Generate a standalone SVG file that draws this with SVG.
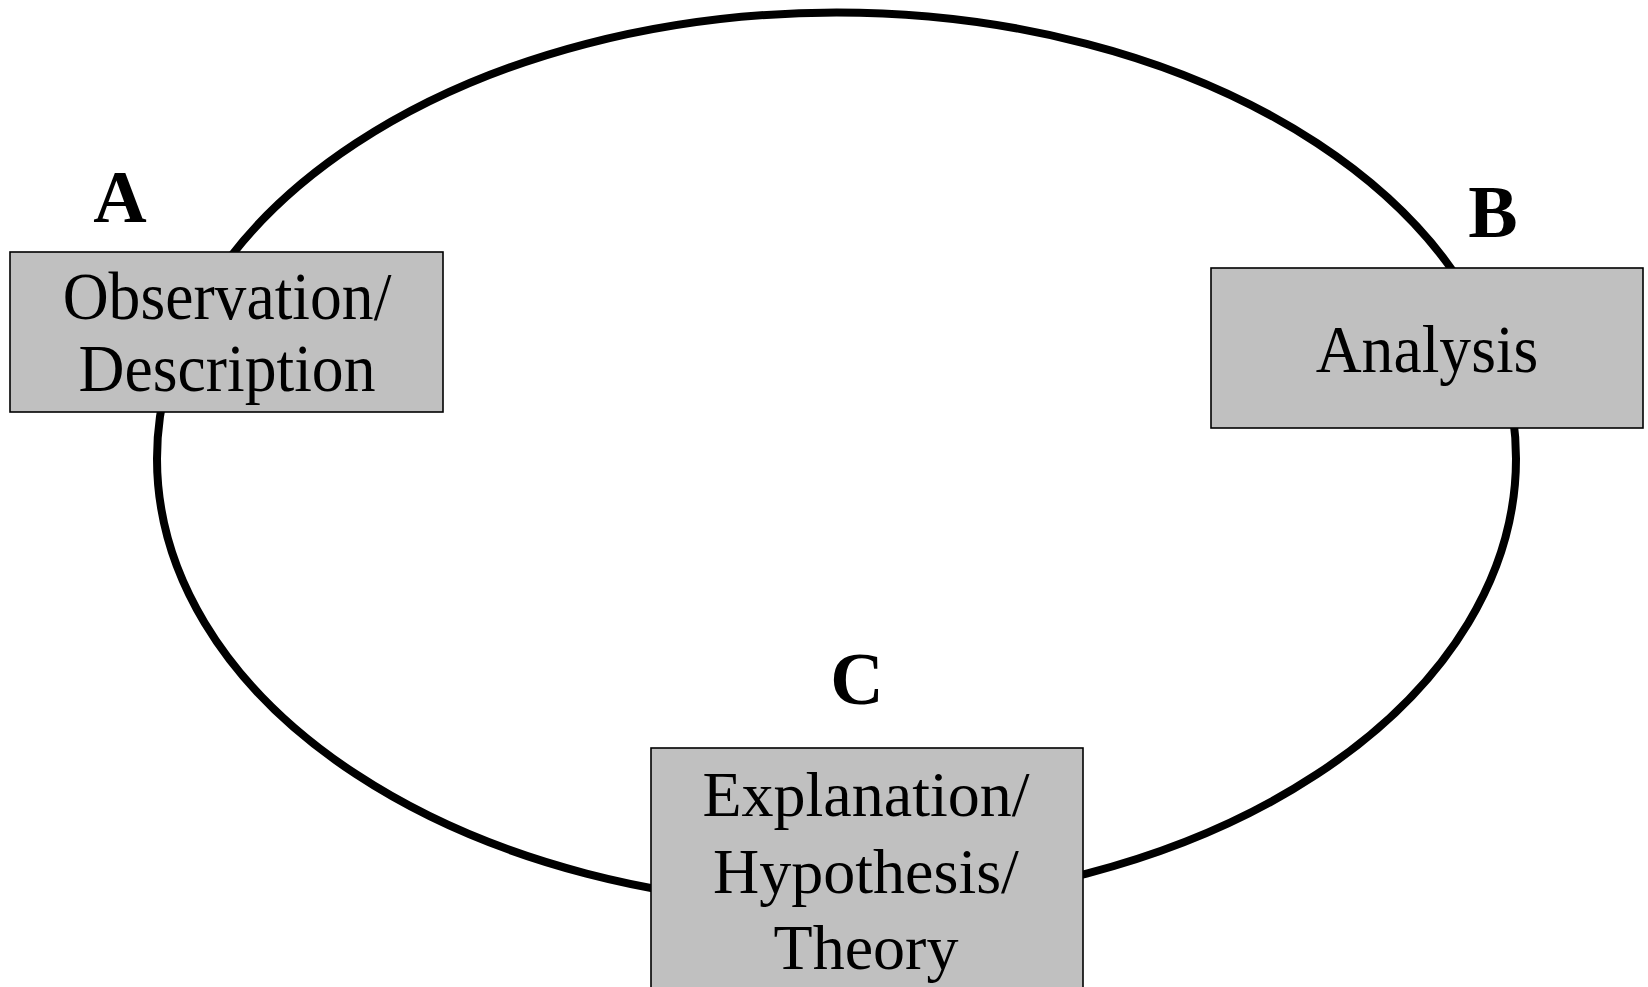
<svg xmlns="http://www.w3.org/2000/svg" width="1648" height="987" viewBox="0 0 1648 987">
  <style>
    .box { fill: #c0c0c0; stroke: #000000; stroke-width: 1.6; }
    .cycle { fill: none; stroke: #000000; stroke-width: 8; }
    .label { font-family: "Liberation Serif", "Times New Roman", serif; fill: #000000; text-anchor: middle; }
    .letter { font-family: "Liberation Serif", "Times New Roman", serif; font-weight: bold; font-size: 74px; fill: #000000; text-anchor: middle; }
  </style>
  <rect width="1648" height="987" fill="#ffffff"/>

  <!-- the cycle linking the three stages -->
  <g id="connectors">
    <ellipse class="cycle" cx="836.5" cy="458.7" rx="679.5" ry="446.2"/>
  </g>

  <!-- stage A -->
  <g id="node-a">
    <text class="letter" x="120" y="222">A</text>
    <rect class="box" x="10" y="252" width="433" height="160"/>
    <g transform="translate(227,0) scale(0.95,1)">
      <text class="label" x="0" y="319" font-size="67">Observation/</text>
      <text class="label" x="0" y="391" font-size="67">Description</text>
    </g>
  </g>

  <!-- stage B -->
  <g id="node-b">
    <text class="letter" x="1493" y="237">B</text>
    <rect class="box" x="1211" y="268" width="432" height="160"/>
    <g transform="translate(1427,0) scale(0.95,1)">
      <text class="label" x="0" y="372" font-size="67">Analysis</text>
    </g>
  </g>

  <!-- stage C -->
  <g id="node-c">
    <text class="letter" x="857" y="704">C</text>
    <rect class="box" x="651" y="748" width="432" height="260"/>
    <text class="label" x="866" y="816" font-size="64">Explanation/</text>
    <text class="label" x="866" y="893" font-size="64">Hypothesis/</text>
    <text class="label" x="866" y="969" font-size="64">Theory</text>
  </g>
</svg>
